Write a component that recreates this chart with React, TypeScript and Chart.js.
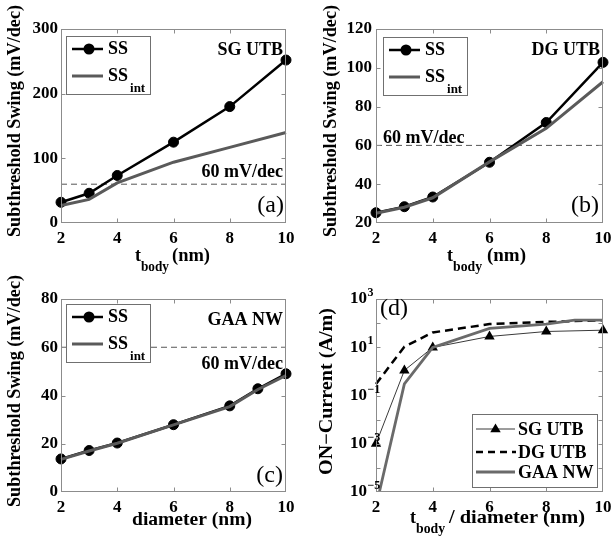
import React, { useEffect, useRef } from 'react';
import { Chart, registerables } from 'chart.js';

Chart.register(...registerables);

// ---------------- data ----------------
const tBody = [2, 3, 4, 6, 8, 10];
const diameter = [2, 3, 4, 6, 8, 9, 10];

const sgSS = [32, 46, 73.5, 125, 180, 252];
const sgSSint = [27, 36.5, 62, 94, 117, 140];

const dgSS = [25.3, 28.4, 33.4, 51.3, 71.8, 102.8];
const dgSSint = [25, 28.1, 33, 51.5, 68.8, 92.8];

const nwSS = [13.7, 17.2, 20.3, 27.9, 35.7, 42.8, 49];
const nwSSint = [13.5, 17, 20.2, 27.8, 35.4, 42.5, 48.3];

const ionSG = [0.001, 1.1, 9.8, 28, 45, 51];
const ionDG = [0.3, 10.5, 41, 91, 112, 132];
const ionGAA = [2.5e-6, 0.3, 9.8, 60, 91, 132, 132];

const ssLimit = [60, 60];
const limitX = [2, 10];

const decadeExps = [-5, -4, -3, -2, -1, 0, 1, 2, 3];

// ---------------- helpers ----------------
const FONT = "'Liberation Serif', 'Times New Roman', Times, serif";
const W = 611;
const H = 542;
const X_AXIS_H = 30;

type Area = { l: number; r: number; t: number; b: number };

const pts = (xs: number[], ys: number[]) => xs.map((x, i) => ({ x, y: ys[i] }));

function drawText(
  ctx: CanvasRenderingContext2D,
  s: string,
  x: number,
  y: number,
  size: number,
  o: { bold?: boolean; align?: CanvasTextAlign; base?: CanvasTextBaseline; rot?: number; w?: number } = {}
) {
  ctx.save();
  ctx.font = `${o.bold === false ? 'normal' : 'bold'} ${size}px ${FONT}`;
  ctx.fillStyle = '#000';
  ctx.textAlign = o.align || 'left';
  ctx.textBaseline = o.base || 'alphabetic';
  ctx.translate(x, y);
  if (o.rot) ctx.rotate(o.rot);
  if (o.w) {
    const m = ctx.measureText(s).width;
    if (m > 0) ctx.scale(o.w / m, 1);
  }
  ctx.fillText(s, 0, 0);
  ctx.restore();
}

function frameAndTicks(chart: any) {
  const { ctx, chartArea: a, scales } = chart;
  const L = Math.round(a.left) + 0.5;
  const T = Math.round(a.top) + 0.5;
  const R = Math.round(a.right) - 0.5;
  const B = Math.round(a.bottom) - 0.5;
  ctx.save();
  ctx.strokeStyle = '#8c8c8c';
  ctx.lineWidth = 1;
  ctx.beginPath();
  const tl = 4;
  for (const t of scales.x.ticks) {
    const px = Math.round(scales.x.getPixelForValue(t.value)) + 0.5;
    if (px <= L + 1 || px >= R - 1) continue;
    ctx.moveTo(px, B);
    ctx.lineTo(px, B - tl);
    ctx.moveTo(px, T);
    ctx.lineTo(px, T + tl);
  }
  for (const t of scales.y.ticks) {
    const py = Math.round(scales.y.getPixelForValue(t.value)) + 0.5;
    if (py <= T + 1 || py >= B - 1) continue;
    ctx.moveTo(L, py);
    ctx.lineTo(L + tl, py);
    ctx.moveTo(R, py);
    ctx.lineTo(R - tl, py);
  }
  ctx.stroke();
  ctx.strokeRect(L, T, R - L, B - T);
  ctx.restore();
}

function ssLegend(ctx: CanvasRenderingContext2D, L: number, T: number) {
  const bw = 84;
  const bh = 58;
  ctx.save();
  ctx.fillStyle = '#fff';
  ctx.fillRect(L, T, bw, bh);
  ctx.strokeStyle = '#707070';
  ctx.lineWidth = 1;
  ctx.strokeRect(L + 0.5, T + 0.5, bw, bh);
  // row 1: SS
  ctx.strokeStyle = '#000';
  ctx.lineWidth = 2.5;
  ctx.beginPath();
  ctx.moveTo(L + 6, T + 13);
  ctx.lineTo(L + 37, T + 13);
  ctx.stroke();
  ctx.fillStyle = '#000';
  ctx.beginPath();
  ctx.arc(L + 23, T + 13, 5.5, 0, Math.PI * 2);
  ctx.fill();
  drawText(ctx, 'SS', L + 42, T + 18, 18);
  // row 2: SS_int
  ctx.strokeStyle = '#5a5a5a';
  ctx.lineWidth = 3;
  ctx.beginPath();
  ctx.moveTo(L + 6, T + 40);
  ctx.lineTo(L + 37, T + 40);
  ctx.stroke();
  drawText(ctx, 'SS', L + 42, T + 45, 18);
  ctx.font = `bold 18px ${FONT}`;
  const sw = ctx.measureText('SS').width;
  drawText(ctx, 'int', L + 42 + sw + 2, T + 56, 13);
  ctx.restore();
}

function ionLegend(ctx: CanvasRenderingContext2D) {
  const L = 472;
  const T = 414;
  ctx.save();
  ctx.fillStyle = '#fff';
  ctx.fillRect(L, T, 125, 73);
  ctx.strokeStyle = '#707070';
  ctx.lineWidth = 1;
  ctx.strokeRect(L + 0.5, T + 0.5, 125, 73);
  // SG UTB
  ctx.strokeStyle = '#3a3a3a';
  ctx.lineWidth = 1;
  ctx.beginPath();
  ctx.moveTo(476, 429);
  ctx.lineTo(515, 429);
  ctx.stroke();
  ctx.fillStyle = '#000';
  ctx.beginPath();
  const r = 5.5;
  ctx.moveTo(495.5, 429 - r);
  ctx.lineTo(495.5 - r * 0.95, 429 + r * 0.6);
  ctx.lineTo(495.5 + r * 0.95, 429 + r * 0.6);
  ctx.closePath();
  ctx.fill();
  drawText(ctx, 'SG UTB', 518, 435, 18);
  // DG UTB
  ctx.strokeStyle = '#000';
  ctx.lineWidth = 2.5;
  ctx.setLineDash([7, 5]);
  ctx.beginPath();
  ctx.moveTo(476, 452);
  ctx.lineTo(516, 452);
  ctx.stroke();
  ctx.setLineDash([]);
  drawText(ctx, 'DG UTB', 518, 458, 18);
  // GAA NW
  ctx.strokeStyle = '#6a6a6a';
  ctx.lineWidth = 2.8;
  ctx.beginPath();
  ctx.moveTo(476, 472);
  ctx.lineTo(515, 472);
  ctx.stroke();
  drawText(ctx, 'GAA NW', 518, 478, 18);
  ctx.restore();
}

const tickFont = { family: FONT, size: 17, weight: 'bold' as const };

function ssDatasets(xs: number[], ss: number[], ssInt: number[]) {
  return [
    {
      label: 'SS_int',
      data: pts(xs, ssInt),
      borderColor: '#5a5a5a',
      borderWidth: 3,
      pointRadius: 0,
      order: 0,
      clip: false,
    },
    {
      label: 'SS',
      data: pts(xs, ss),
      borderColor: '#000',
      borderWidth: 2.5,
      pointRadius: 5,
      pointBackgroundColor: '#000',
      pointBorderColor: '#000',
      pointBorderWidth: 1,
      order: 1,
      clip: false,
    },
    {
      label: '60 mV/dec',
      data: pts(limitX, ssLimit),
      borderColor: '#555',
      borderWidth: 1,
      borderDash: [6, 4],
      pointRadius: 0,
      order: 2,
    },
  ];
}

type Spec = {
  area: Area;
  yMin: number;
  yMax: number;
  yStep?: number;
  log?: boolean;
  yPad: number;
  datasets: any[];
  extra: (ctx: CanvasRenderingContext2D, chart: any) => void;
};

const ROT = -Math.PI / 2;

const specs: Spec[] = [
  {
    area: { l: 61, r: 286, t: 29, b: 223 },
    yMin: 0,
    yMax: 300,
    yStep: 100,
    yPad: 3,
    datasets: ssDatasets(tBody, sgSS, sgSSint),
    extra: (ctx) => {
      drawText(ctx, 'Subthreshold Swing (mV/dec)', 15, 121, 18, { rot: ROT, align: 'center', base: 'middle', w: 232 });
      drawText(ctx, 't', 135, 261, 18);
      drawText(ctx, 'body', 141, 271, 14, { w: 28 });
      drawText(ctx, '(nm)', 172, 261, 18, { w: 38 });
      drawText(ctx, 'SG UTB', 283, 55, 18, { align: 'right' });
      drawText(ctx, '60 mV/dec', 283, 177, 18, { align: 'right' });
      drawText(ctx, '(a)', 284, 212, 24, { align: 'right', bold: false });
      ssLegend(ctx, 66, 36);
    },
  },
  {
    area: { l: 376, r: 603, t: 29, b: 223 },
    yMin: 20,
    yMax: 120,
    yStep: 20,
    yPad: 4,
    datasets: ssDatasets(tBody, dgSS, dgSSint),
    extra: (ctx) => {
      drawText(ctx, 'Subthreshold Swing (mV/dec)', 331.5, 121, 18, { rot: ROT, align: 'center', base: 'middle', w: 232 });
      drawText(ctx, 't', 447, 261, 18);
      drawText(ctx, 'body', 453, 271, 14, { w: 29 });
      drawText(ctx, '(nm)', 487, 261, 18, { w: 39 });
      drawText(ctx, 'DG UTB', 600, 55, 18, { align: 'right' });
      drawText(ctx, '60 mV/dec', 383, 143, 18);
      drawText(ctx, '(b)', 599, 212, 24, { align: 'right', bold: false });
      ssLegend(ctx, 383, 37);
    },
  },
  {
    area: { l: 61, r: 286, t: 299, b: 492 },
    yMin: 0,
    yMax: 80,
    yStep: 20,
    yPad: 3,
    datasets: ssDatasets(diameter, nwSS, nwSSint),
    extra: (ctx) => {
      drawText(ctx, 'Subthreshold Swing (mV/dec)', 15, 391, 18, { rot: ROT, align: 'center', base: 'middle', w: 232 });
      drawText(ctx, 'diameter (nm)', 132, 525, 18, { w: 120 });
      drawText(ctx, 'GAA NW', 283, 325, 18, { align: 'right' });
      drawText(ctx, '60 mV/dec', 283, 369, 18, { align: 'right' });
      drawText(ctx, '(c)', 283, 482, 24, { align: 'right', bold: false });
      ssLegend(ctx, 66, 304);
    },
  },
  {
    area: { l: 376, r: 603, t: 299, b: 492 },
    yMin: 1e-5,
    yMax: 1e3,
    log: true,
    yPad: 9,
    datasets: [
      {
        label: 'GAA NW',
        data: pts(diameter, ionGAA),
        borderColor: '#6a6a6a',
        borderWidth: 2.8,
        pointRadius: 0,
        order: 0,
      },
      {
        label: 'SG UTB',
        data: pts(tBody, ionSG),
        borderColor: '#3a3a3a',
        borderWidth: 1,
        pointStyle: 'triangle',
        pointRadius: 6,
        pointBackgroundColor: '#000',
        pointBorderColor: '#000',
        pointBorderWidth: 0,
        order: 1,
        clip: false,
      },
      {
        label: 'DG UTB',
        data: pts(tBody, ionDG),
        borderColor: '#000',
        borderWidth: 2.5,
        borderDash: [8, 5],
        pointRadius: 0,
        order: 2,
        clip: false,
      },
    ],
    extra: (ctx, chart) => {
      const ys = chart.scales.y;
      const a = chart.chartArea;
      for (const e of decadeExps) {
        if (Math.abs(e) % 2 !== 1) continue;
        const py = ys.getPixelForValue(Math.pow(10, e));
        drawText(ctx, e < 0 ? '\u2212' + Math.abs(e) : String(e), a.left - 8.5, py - 3, 12);
      }
      drawText(ctx, 'ON\u2212Current (A/m)', 327, 391.5, 18, { rot: ROT, align: 'center', base: 'middle', w: 167 });
      drawText(ctx, 't', 410, 523, 18);
      drawText(ctx, 'body', 416, 533, 14, { w: 29 });
      drawText(ctx, '/ diameter (nm)', 449, 523, 18, { w: 136 });
      drawText(ctx, '(d)', 380, 315, 24, { bold: false });
      ionLegend(ctx);
    },
  },
];

function buildChart(canvas: HTMLCanvasElement, spec: Spec) {
  const { area } = spec;
  const zeroPad = (s: any) => {
    s.paddingLeft = 0;
    s.paddingRight = 0;
    s.paddingTop = 0;
    s.paddingBottom = 0;
  };
  const yScale: any = spec.log
    ? {
        type: 'logarithmic',
        min: spec.yMin,
        max: spec.yMax,
        grid: { display: false, drawTicks: false },
        border: { display: false },
        afterBuildTicks: (s: any) => {
          s.ticks = decadeExps.map((e) => ({ value: Math.pow(10, e) }));
        },
        ticks: {
          padding: spec.yPad,
          color: '#000',
          font: tickFont,
          autoSkip: false,
          callback: (v: any) => {
            const e = Math.round(Math.log10(Number(v)));
            return Math.abs(e) % 2 === 1 ? '10' : '';
          },
        },
        afterFit: (s: any) => {
          s.width = area.l;
          zeroPad(s);
        },
      }
    : {
        type: 'linear',
        min: spec.yMin,
        max: spec.yMax,
        grid: { display: false, drawTicks: false },
        border: { display: false },
        ticks: { stepSize: spec.yStep, padding: spec.yPad, color: '#000', font: tickFont },
        afterFit: (s: any) => {
          s.width = area.l;
          zeroPad(s);
        },
      };

  const config: any = {
    type: 'line',
    data: { datasets: spec.datasets },
    options: {
      animation: false,
      responsive: false,
      maintainAspectRatio: false,
      devicePixelRatio: 1,
      events: [],
      layout: {
        padding: { left: 0, top: area.t, right: W - area.r, bottom: H - area.b - X_AXIS_H },
      },
      elements: { line: { tension: 0 } },
      plugins: {
        legend: { display: false },
        tooltip: { enabled: false },
        title: { display: false },
      },
      scales: {
        x: {
          type: 'linear',
          position: 'bottom',
          min: 2,
          max: 10,
          grid: { display: false, drawTicks: false },
          border: { display: false },
          ticks: {
            stepSize: 2,
            maxRotation: 0,
            autoSkip: false,
            padding: 5,
            color: '#000',
            font: tickFont,
          },
          afterFit: (s: any) => {
            s.height = X_AXIS_H;
            zeroPad(s);
          },
        },
        y: yScale,
      },
    },
    plugins: [
      {
        id: 'decor',
        afterDraw(chart: any) {
          frameAndTicks(chart);
          spec.extra(chart.ctx, chart);
        },
      },
    ],
  };
  return new Chart(canvas, config);
}

export default function App() {
  const r0 = useRef<HTMLCanvasElement>(null);
  const r1 = useRef<HTMLCanvasElement>(null);
  const r2 = useRef<HTMLCanvasElement>(null);
  const r3 = useRef<HTMLCanvasElement>(null);
  const refs = [r0, r1, r2, r3];

  useEffect(() => {
    const charts = specs.map((spec, i) => buildChart(refs[i].current as HTMLCanvasElement, spec));
    return () => charts.forEach((c) => c.destroy());
  }, []);

  return (
    <div
      style={{
        position: 'absolute',
        left: 0,
        top: 0,
        width: W,
        height: H,
        background: '#fff',
        overflow: 'hidden',
      }}
    >
      {refs.map((r, i) => (
        <canvas
          key={i}
          ref={r}
          width={W}
          height={H}
          style={{ position: 'absolute', left: 0, top: 0, width: W, height: H }}
        />
      ))}
    </div>
  );
}
